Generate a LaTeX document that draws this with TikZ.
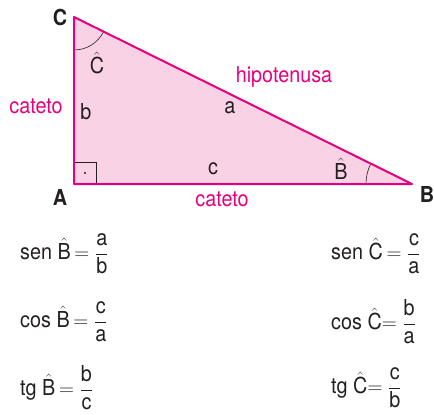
\documentclass[tikz,border=0pt]{standalone}
\usepackage{amsmath}
\usepackage{fontspec}
\setmainfont[FakeStretch=0.9]{TeX Gyre Heros}
\definecolor{mag}{HTML}{E6007E}
\definecolor{pinkfill}{HTML}{F9D2E5}
\definecolor{ink}{HTML}{231F20}
\newcommand{\hatB}{$\hat{\text{B}}$}
\newcommand{\hatC}{$\hat{\text{C}}$}
\begin{document}
\begin{tikzpicture}[x=1pt,y=-1pt,
  txt/.style={font=\fontsize{22}{24}\selectfont, text=ink, inner sep=0pt},
  magtxt/.style={font=\fontsize{22}{24}\selectfont, text=mag, inner sep=0pt},
  vtx/.style={font=\fontsize{22}{24}\selectfont\bfseries, text=ink, inner sep=0pt},
  eq/.style={font=\fontsize{22}{24}\selectfont, text=ink, inner sep=0pt, anchor=west},
  side/.style={draw=mag, line width=2pt, line join=round}]
\useasboundingbox (0,0) rectangle (434,415);
\coordinate (C) at (74,17);
\coordinate (A) at (74,184);
\coordinate (B) at (412,184);
\fill[pinkfill] (C) -- (A) -- (B) -- cycle;
% right angle box
\draw[ink, line width=0.6pt] (74,162) -- (96,162) -- (96,184);
\fill[ink] (85,173) circle (1.2);
% angle arcs
\draw[ink, line width=0.6pt] ([shift={(90:33)}]C) arc[start angle=90, end angle=26.3, radius=33];
\draw[ink, line width=0.6pt] ([shift={(180:46)}]B) arc[start angle=180, end angle=206.3, radius=46];
\draw[side] (C) -- (A) -- (B) -- cycle;
% labels
\node[vtx] (lC) at (60,17) {C};
\node[vtx] (lA) at (60,197) {A};
\node[vtx] (lB) at (427,194) {B};
\node[txt] (aC) at (97,63) {\hatC};
\node[txt] (aB) at (341,169) {\hatB};
\node[txt] (sb) at (86,112) {b};
\node[txt] (sa) at (230,108) {a};
\node[txt] (sc) at (213,169) {c};
\node[magtxt] (cat1) at (36,106) {cateto};
\node[magtxt] (cat2) at (222,199) {cateto};
\node[magtxt] (hip) at (284,77) {hipotenusa};
% formulas
\node[eq] (f1) at (20,254) {sen \hatB\,$=\dfrac{\text{a}}{\text{b}}$};
\node[eq] (f2) at (20,322) {cos \hatB\,$=\dfrac{\text{c}}{\text{a}}$};
\node[eq] (f3) at (20,388) {tg \hatB\,$=\dfrac{\text{b}}{\text{c}}$};
\node[eq] (f4) at (331,254) {sen \hatC\,$=\dfrac{\text{c}}{\text{a}}$};
\node[eq] (f5) at (331,322) {cos \hatC$=\dfrac{\text{b}}{\text{a}}$};
\node[eq] (f6) at (331,388) {tg \hatC$=\dfrac{\text{c}}{\text{b}}$};
\end{tikzpicture}
\end{document}
